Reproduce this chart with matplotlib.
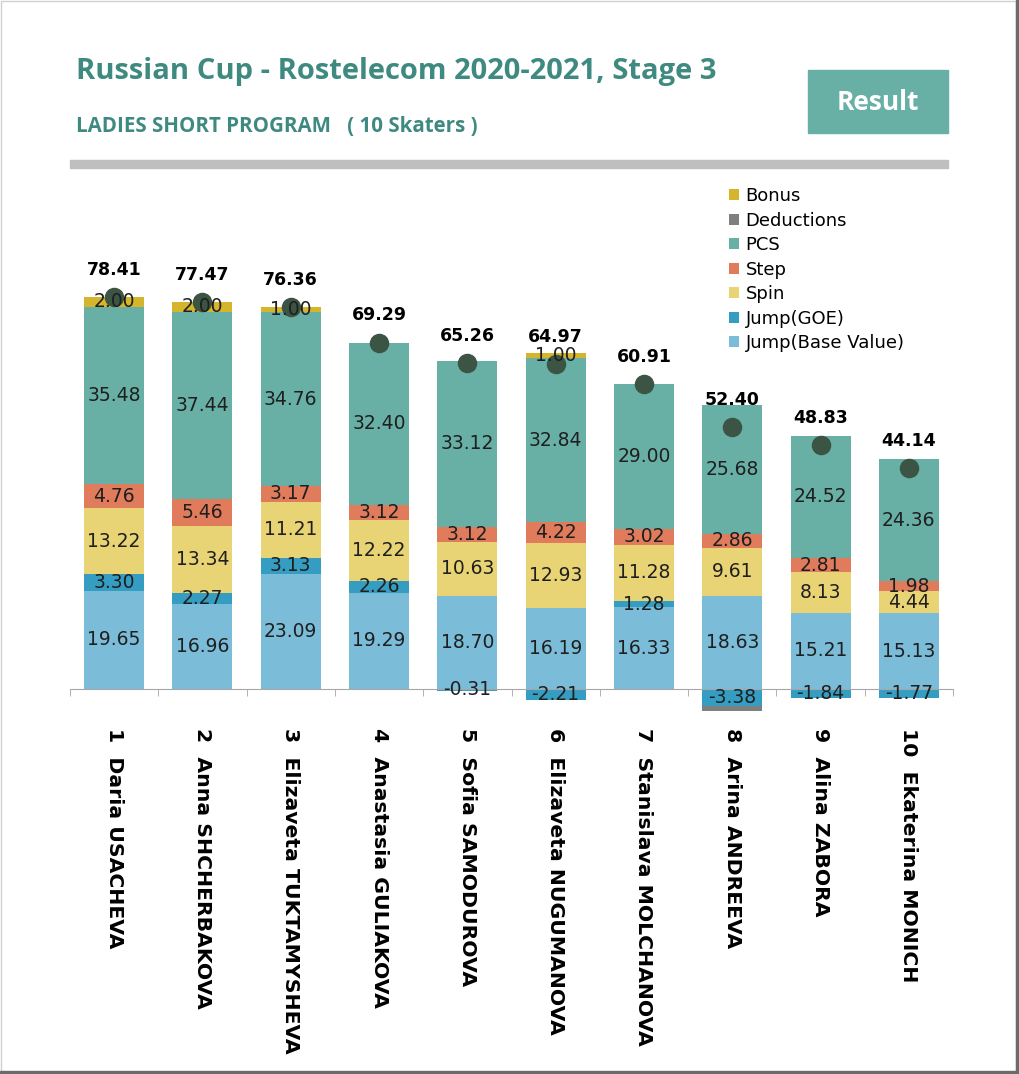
import matplotlib.pyplot as plt
import numpy as np
from matplotlib.patches import Rectangle

# data
skaters = ['Daria USACHEVA', 'Anna SHCHERBAKOVA', 'Elizaveta TUKTAMYSHEVA',
           'Anastasia GULIAKOVA', 'Sofia SAMODUROVA', 'Elizaveta NUGUMANOVA',
           'Stanislava MOLCHANOVA', 'Arina ANDREEVA', 'Alina ZABORA',
           'Ekaterina MONICH']
ranks = [1, 2, 3, 4, 5, 6, 7, 8, 9, 10]
jump_base = [19.65, 16.96, 23.09, 19.29, 18.70, 16.19, 16.33, 18.63, 15.21, 15.13]
jump_goe = [3.30, 2.27, 3.13, 2.26, -0.31, -2.21, 1.28, -3.38, -1.84, -1.77]
spin = [13.22, 13.34, 11.21, 12.22, 10.63, 12.93, 11.28, 9.61, 8.13, 4.44]
step = [4.76, 5.46, 3.17, 3.12, 3.12, 4.22, 3.02, 2.86, 2.81, 1.98]
pcs = [35.48, 37.44, 34.76, 32.40, 33.12, 32.84, 29.00, 25.68, 24.52, 24.36]
deductions = [0, 0, 0, 0, 0, 0, 0, -1.00, 0, 0]
bonus = [2.00, 2.00, 1.00, 0, 0, 1.00, 0, 0, 0, 0]
total = [78.41, 77.47, 76.36, 69.29, 65.26, 64.97, 60.91, 52.40, 48.83, 44.14]

series = [('Jump(Base Value)', jump_base, '#7bbcd8'),
          ('Jump(GOE)', jump_goe, '#359dc2'),
          ('Spin', spin, '#e8d474'),
          ('Step', step, '#e07b5b'),
          ('PCS', pcs, '#68b0a5'),
          ('Deductions', deductions, '#7f7f7f'),
          ('Bonus', bonus, '#d4b52b')]

W, H = 1019, 1074
fig = plt.figure(figsize=(W / 100, H / 100), dpi=100)
teal = '#3f8a80'

# header
fig.text(76 / W, 1 - 71 / H, 'Russian Cup - Rostelecom 2020-2021, Stage 3',
         color=teal, fontsize=21, fontweight='bold', family='Open Sans',
         va='center', ha='left')
fig.text(76 / W, 1 - 126 / H, 'LADIES SHORT PROGRAM   ( 10 Skaters )',
         color=teal, fontsize=14.8, fontweight='bold', family='Open Sans',
         va='center', ha='left')
fig.patches.append(Rectangle((808 / W, 1 - 133 / H), 140 / W, 63 / H,
                             transform=fig.transFigure, color='#68b0a5'))
fig.text(878 / W, 1 - 102 / H, 'Result', color='white', fontsize=19,
         fontweight='bold', family='Open Sans', va='center', ha='center')
fig.patches.append(Rectangle((70 / W, 1 - 168 / H), 878 / W, 8 / H,
                             transform=fig.transFigure, color='#bfbfbf'))

# frame
fig.patches.append(Rectangle((0.5 / W, 2 / H), 1015 / W, 1071 / H,
                             transform=fig.transFigure, fill=False,
                             edgecolor='#d0d0d0', lw=1))
fig.patches.append(Rectangle((1016 / W, 0), 3 / W, 1, transform=fig.transFigure,
                             color='#6b6b6b'))
fig.patches.append(Rectangle((0, 0), 1, 3 / H, transform=fig.transFigure,
                             color='#6b6b6b'))

ax = fig.add_axes([70 / W, (H - 715) / H, 883 / W, 535 / H])
x = np.arange(len(skaters))
pos_bottom = np.zeros(len(x))
neg_bottom = np.zeros(len(x))
for name, vals, col in series:
    vals = np.array(vals, dtype=float)
    base = np.where(vals >= 0, pos_bottom, neg_bottom)
    ax.bar(x, vals, 0.68, bottom=base, color=col, label=name, zorder=2)
    if name != 'Deductions':
        for xi, v, b in zip(x, vals, base):
            if v != 0:
                ax.text(xi, b + v / 2, f'{v:.2f}', ha='center', va='center',
                        fontsize=13.5, color='#1f1f1f', family='DejaVu Sans', zorder=4)
    pos_bottom += np.where(vals >= 0, vals, 0)
    neg_bottom += np.where(vals < 0, vals, 0)

ax.scatter(x, total, s=170, color='#3b5443', zorder=3)
for xi, t in zip(x, total):
    ax.annotate(f'{t:.2f}', (xi, t), xytext=(0, 19.5), textcoords='offset points',
                ha='center', va='center', fontsize=12.5, fontweight='bold',
                color='black')

ax.set_xlim(-0.5, 9.5)
ax.set_ylim(-5.2, 101.8)
for s in ['top', 'left', 'right']:
    ax.spines[s].set_visible(False)
ax.spines['bottom'].set_position(('data', 0))
ax.spines['bottom'].set_color('#a6a6a6')
ax.set_yticks([])
ax.set_xticks(x)
ax.set_xticklabels([f'{r}  {n}' for r, n in zip(ranks, skaters)], rotation=270,
                   fontsize=14.7, fontweight='bold', va='top', ha='center')
ax.tick_params(axis='x', which='major', length=0, pad=28)
ax.set_xticks(np.arange(-0.5, 10, 1), minor=True)
ax.tick_params(axis='x', which='minor', length=5, color='#a6a6a6', direction='out')

h, l = ax.get_legend_handles_labels()
fig.legend(h[::-1], l[::-1], loc='upper left', bbox_to_anchor=(722 / W, 1 - 180 / H),
           frameon=False, fontsize=13, handlelength=0.55, handleheight=0.55,
           handletextpad=0.35, labelspacing=0.36, borderaxespad=0)

fig.savefig('out.png', dpi=100)
